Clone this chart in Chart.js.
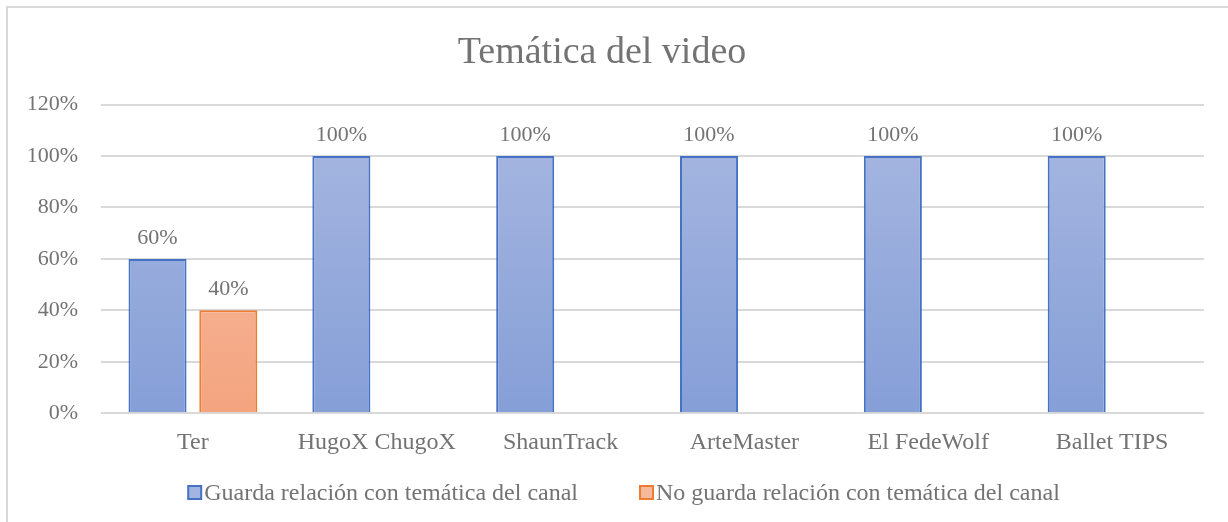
<!DOCTYPE html>
<html>
<head>
<meta charset="utf-8">
<script src="https://cdn.jsdelivr.net/npm/chart.js@4.4.1/dist/chart.umd.min.js"></script>
<style>
  html, body { margin: 0; padding: 0; background: #fff; overflow: hidden; }
  #frame { position: absolute; left: 6px; top: 6px; width: 1260px; height: 560px;
           border-left: 2px solid #d9d9d9; border-top: 2px solid #d9d9d9; }
  #chart { position: absolute; left: 0; top: 0; }
</style>
</head>
<body>
<div id="frame"></div>
<canvas id="chart" width="1228" height="522"></canvas>
<script>
  'use strict';

  // ── data ──
  const canales = ['Ter', 'HugoX ChugoX', 'ShaunTrack', 'ArteMaster', 'El FedeWolf', 'Ballet TIPS'];
  const guardaRelacion = [60, 100, 100, 100, 100, 100];
  const noGuardaRelacion = [40, 0, 0, 0, 0, 0];
  const yTicks = [0, 20, 40, 60, 80, 100, 120];

  const FONT = "'Liberation Serif', 'Times New Roman', serif";
  const GRAY = '#737373';

  function vGradient(top, bottom) {
    return (ctx) => {
      const area = ctx.chart.chartArea;
      if (!area) return bottom;
      const g = ctx.chart.ctx.createLinearGradient(0, area.top, 0, area.bottom);
      g.addColorStop(0, top);
      g.addColorStop(1, bottom);
      return g;
    };
  }

  // value labels above each bar (skip zeros)
  const barLabels = {
    id: 'barLabels',
    afterDatasetsDraw(chart) {
      const c = chart.ctx;
      c.save();
      c.font = '22px ' + FONT;
      c.fillStyle = GRAY;
      c.textAlign = 'center';
      c.textBaseline = 'alphabetic';
      chart.data.datasets.forEach((ds, i) => {
        chart.getDatasetMeta(i).data.forEach((bar, j) => {
          if (!ds.data[j]) return;
          c.fillText(ds.data[j] + '%', bar.x, bar.y - 15);
        });
      });
      c.restore();
    }
  };

  // Excel-like legend: small square, text right next to it, wide gap between items
  const excelLegend = {
    id: 'excelLegend',
    afterDraw(chart) {
      const c = chart.ctx;
      const box = 13, gap = 3, itemGap = 62, centerX = 624, baseY = 500;
      c.save();
      c.font = '24px ' + FONT;
      const items = chart.data.datasets.map(ds => ({
        text: ds.label, fill: ds.legendFill, stroke: ds.borderColor,
        w: box + gap + c.measureText(ds.label).width
      }));
      const total = items.reduce((s, it) => s + it.w, 0) + itemGap * (items.length - 1);
      let x = centerX - total / 2;
      items.forEach(it => {
        c.fillStyle = it.fill;
        c.fillRect(x, baseY - 14, box, box);
        c.strokeStyle = it.stroke;
        c.lineWidth = 2;
        c.strokeRect(x, baseY - 14, box, box);
        c.fillStyle = GRAY;
        c.textBaseline = 'alphabetic';
        c.fillText(it.text, x + box + gap, baseY);
        x += it.w + itemGap;
      });
      c.restore();
    }
  };

  new Chart(document.getElementById('chart'), {
    type: 'bar',
    data: {
      labels: canales,
      datasets: [{
        label: 'Guarda relación con temática del canal',
        data: guardaRelacion,
        backgroundColor: vGradient('#a9b8e1', '#859fd7'),
        legendFill: '#a2b4e0',
        borderColor: '#4472c4',
        borderWidth: 2,
        categoryPercentage: 0.77,
        barPercentage: 0.82
      }, {
        label: 'No guarda relación con temática del canal',
        data: noGuardaRelacion,
        backgroundColor: vGradient('#f7c1a7', '#f4a47f'),
        legendFill: '#f6b99b',
        borderColor: '#ed7d31',
        borderWidth: 2,
        categoryPercentage: 0.77,
        barPercentage: 0.82
      }]
    },
    options: {
      responsive: false,
      animation: false,
      layout: { padding: { left: 0, right: 24, top: 0, bottom: 58 } },
      plugins: {
        title: {
          display: true,
          text: 'Temática del video',
          color: GRAY,
          font: { family: FONT, size: 38, weight: 'normal' },
          padding: { top: 30, bottom: 29 }
        },
        legend: { display: false },
        tooltip: { enabled: false }
      },
      scales: {
        x: {
          grid: { display: false },
          border: { display: false },
          ticks: { color: GRAY, font: { family: FONT, size: 24 }, padding: 7, autoSkip: false, maxRotation: 0 }
        },
        y: {
          min: yTicks[0],
          max: yTicks[yTicks.length - 1],
          afterBuildTicks: (scale) => { scale.ticks = yTicks.map(v => ({ value: v })); },
          afterFit: (scale) => { scale.width = 101; },
          grid: { color: '#d9d9d9', lineWidth: 2, drawTicks: false },
          border: { display: false },
          ticks: {
            color: GRAY,
            font: { family: FONT, size: 22 },
            padding: 23,
            callback: v => v + '%'
          }
        }
      }
    },
    plugins: [barLabels, excelLegend]
  });
</script>
</body>
</html>
